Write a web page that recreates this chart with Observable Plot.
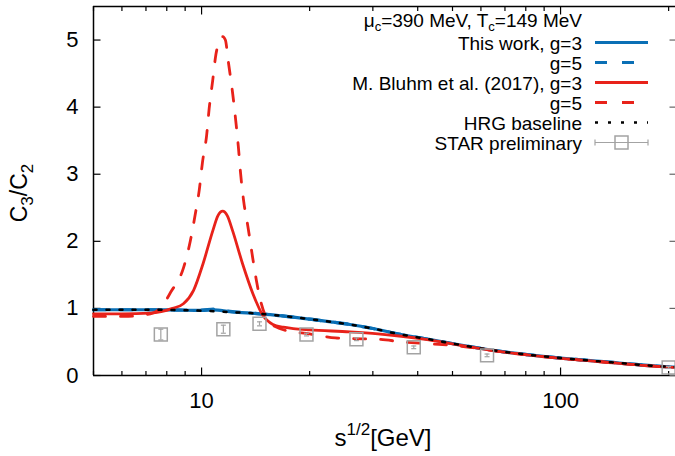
<!DOCTYPE html>
<html><head><meta charset="utf-8">
<script src="https://cdn.jsdelivr.net/npm/d3@7"></script>
<script src="https://cdn.jsdelivr.net/npm/@observablehq/plot@0.6"></script>
<style>
body{margin:0;background:#fff;}
svg{display:block}
</style>
</head><body><div id="chart"></div>
<script>
// ---- data ----
const hrgX   = [5, 7, 8.5, 10, 10.8, 12, 13.7, 16, 18, 20, 22.9, 25.9, 30, 36, 43, 49.4, 68, 100, 129, 200, 209];
const hrgY   = [0.98, 0.98, 0.975, 0.965, 0.958, 0.945, 0.93, 0.90, 0.87, 0.84, 0.80, 0.76, 0.70, 0.61, 0.54, 0.48, 0.36, 0.26, 0.21, 0.13, 0.125];
const blue3Y = [0.98, 0.98, 0.975, 0.97, 0.978, 0.95, 0.93, 0.90, 0.87, 0.84, 0.80, 0.76, 0.70, 0.61, 0.54, 0.48, 0.36, 0.26, 0.21, 0.13, 0.125];
const blue5Y = [0.98, 0.98, 0.977, 0.975, 0.99, 0.955, 0.93, 0.90, 0.87, 0.84, 0.80, 0.76, 0.70, 0.61, 0.54, 0.48, 0.36, 0.26, 0.21, 0.13, 0.125];

const red3X = [5, 6, 7.2, 8.3, 8.9, 9.5, 10.1, 10.75, 11.1, 11.45, 11.8, 12.2, 13.0, 13.9, 14.8, 15.8, 16.9, 18, 20, 25.9, 31, 36, 43, 49.4, 68, 100, 129, 200, 209];
const red3Y = [0.92, 0.92, 0.93, 1.0, 1.07, 1.27, 1.67, 2.16, 2.38, 2.45, 2.38, 2.16, 1.67, 1.22, 0.90, 0.76, 0.72, 0.70, 0.68, 0.65, 0.62, 0.585, 0.53, 0.475, 0.355, 0.255, 0.205, 0.125, 0.12];

const red5X = [5, 6.1, 7.2, 7.5, 7.8, 8.2, 8.9, 9.3, 9.6, 9.85, 10.06, 10.33, 10.5, 10.73, 10.96, 11.2, 11.45, 11.65, 11.87, 12.21, 12.45, 12.66, 12.85, 13.1, 13.47, 13.82, 14.21, 14.67, 15.32, 16.5, 17.2, 20, 23.6, 26, 30.9, 36.5, 43.4, 50, 56, 68, 100, 129, 200, 209];
const red5Y = [0.88, 0.88, 0.92, 0.96, 1.05, 1.24, 1.6, 2.0, 2.4, 2.76, 3.18, 3.58, 3.98, 4.38, 4.78, 4.98, 5.05, 5.0, 4.68, 4.2, 3.8, 3.41, 3.0, 2.6, 2.21, 1.82, 1.42, 1.07, 0.82, 0.70, 0.67, 0.62, 0.56, 0.55, 0.54, 0.50, 0.47, 0.45, 0.42, 0.355, 0.255, 0.205, 0.125, 0.12];

const starX   = [7.7, 11.5, 14.5, 19.6, 27, 39, 62.4, 200];
const starY   = [0.61, 0.69, 0.77, 0.61, 0.54, 0.42, 0.30, 0.12];
const starErr = [0.08, 0.06, 0.03, 0.02, 0.02, 0.02, 0.02, 0.015];

const xMajor = [10, 100];
const xMinor = [5, 6, 7, 8, 9, 20, 30, 40, 50, 60, 70, 80, 90, 200];
const yTicks = [0, 1, 2, 3, 4, 5];

const legendTitle = ["μ", "c", "=390 MeV, T", "c", "=149 MeV"];
const legendLabels = ["This work, g=3", "g=5", "M. Bluhm et al. (2017), g=3", "g=5", "HRG baseline", "STAR preliminary"];

// ---- styling ----
const BLUE = "#0a6fb5", RED = "#e8221a", GRAY = "#a3a3a3";
const DASH = "12,15", DOT = "3,10";
const pts = (xs, ys) => xs.map((x, i) => ({x, y: ys[i]}));
const star = starX.map((x, i) => ({x, y: starY[i], lo: starY[i] - starErr[i], hi: starY[i] + starErr[i]}));

const seg = (dx, dy) => ({draw(ctx) { ctx.moveTo(0, 0); ctx.lineTo(dx, dy); }});
const hcap = {draw(ctx) { ctx.moveTo(-2.5, 0); ctx.lineTo(2.5, 0); }};

const plot = Plot.plot({
  width: 675, height: 456,
  marginLeft: 93, marginRight: 0, marginTop: 6, marginBottom: 81,
  style: {fontFamily: "'Liberation Sans', Arial, sans-serif", fontSize: "22px", color: "black", background: "white"},
  x: {type: "log", domain: [5, 209]},
  y: {domain: [0, 5.5]},
  marks: [
    // frame (left, bottom, top)
    Plot.ruleX([5], {stroke: "black", strokeWidth: 1.5}),
    Plot.ruleY([0], {stroke: "black", strokeWidth: 1.5}),
    Plot.ruleY([5.5], {stroke: "black", strokeWidth: 1.5}),
    // ticks (gnuplot style, inward, mirrored)
    Plot.dot(xMajor, {x: d => d, y: 0, symbol: seg(0, -8), stroke: "black", fill: "none", strokeWidth: 1.2}),
    Plot.dot(xMinor, {x: d => d, y: 0, symbol: seg(0, -4.5), stroke: "black", fill: "none", strokeWidth: 1.2}),
    Plot.dot(xMajor, {x: d => d, y: 5.5, symbol: seg(0, 8), stroke: "black", fill: "none", strokeWidth: 1.2}),
    Plot.dot(xMinor, {x: d => d, y: 5.5, symbol: seg(0, 4.5), stroke: "black", fill: "none", strokeWidth: 1.2}),
    Plot.dot(yTicks, {x: 5, y: d => d, symbol: seg(7, 0), stroke: "black", fill: "none", strokeWidth: 1.2}),
    Plot.dot(yTicks, {x: 209, y: d => d, symbol: seg(-6, 0), stroke: "#666", fill: "none", strokeWidth: 1.2}),
    Plot.axisX({ticks: xMajor, tickSize: 0, tickPadding: 17, tickFormat: d => String(d), label: null, fontSize: 22}),
    Plot.axisY({ticks: yTicks, tickSize: 0, tickPadding: 15, tickFormat: d => String(d), label: null, fontSize: 22}),
    // curves
    Plot.line(pts(hrgX, blue3Y), {x: "x", y: "y", stroke: BLUE, strokeWidth: 3.2, curve: "monotone-x"}),
    Plot.line(pts(hrgX, blue5Y), {x: "x", y: "y", stroke: BLUE, strokeWidth: 3.2, strokeDasharray: DASH, curve: "monotone-x"}),
    Plot.line(pts(red3X, red3Y), {x: "x", y: "y", stroke: RED, strokeWidth: 2.8, curve: "monotone-x"}),
    Plot.line(pts(red5X, red5Y), {x: "x", y: "y", stroke: RED, strokeWidth: 2.8, strokeDasharray: DASH, curve: "monotone-x"}),
    Plot.line(pts(hrgX, hrgY), {x: "x", y: "y", stroke: "black", strokeWidth: 2.5, strokeDasharray: DOT, curve: "monotone-x"}),
    // STAR preliminary
    Plot.ruleX(star, {x: "x", y1: "lo", y2: "hi", stroke: GRAY, strokeWidth: 1.2}),
    Plot.dot(star, {x: "x", y: "lo", symbol: hcap, stroke: GRAY, fill: "none", strokeWidth: 1.2}),
    Plot.dot(star, {x: "x", y: "hi", symbol: hcap, stroke: GRAY, fill: "none", strokeWidth: 1.2}),
    Plot.dot(star, {x: "x", y: "y", symbol: "square", r: 7.3, stroke: GRAY, fill: "none", strokeWidth: 1.5})
  ]
});

// ---- axis titles and legend (text with sub/superscripts) ----
const svg = d3.select(plot);
const font = "'Liberation Sans', Arial, sans-serif";

const yl = svg.append("text").attr("transform", "translate(27,193) rotate(-90)")
  .attr("text-anchor", "middle").attr("font-family", font).attr("font-size", 23).attr("fill", "black");
yl.append("tspan").text("C");
yl.append("tspan").attr("font-size", 17).attr("dy", 6).text("3");
yl.append("tspan").attr("dy", -6).text("/C");
yl.append("tspan").attr("font-size", 17).attr("dy", 6).text("2");

const xl = svg.append("text").attr("x", 383).attr("y", 446)
  .attr("text-anchor", "middle").attr("font-family", font).attr("font-size", 24).attr("fill", "black");
xl.append("tspan").text("s");
xl.append("tspan").attr("font-size", 17).attr("dy", -11).text("1/2");
xl.append("tspan").attr("dy", 11).text("[GeV]");

const lg = svg.append("g").attr("font-family", font).attr("font-size", 19).attr("fill", "black");
const tx = 582, lx1 = 595, lx2 = 648;
const title = lg.append("text").attr("x", tx).attr("y", 27).attr("text-anchor", "end");
legendTitle.forEach((t, i) => {
  const sp = title.append("tspan").text(t);
  if (i === 1 || i === 3) sp.attr("font-size", 13).attr("dy", 4);
  else if (i > 0) sp.attr("dy", -4);
});
const rows = [49.5, 69.5, 89.5, 109.5, 129.5, 149.5];
const styles = [
  {stroke: BLUE, w: 3.2, dash: null},
  {stroke: BLUE, w: 3.2, dash: DASH},
  {stroke: RED, w: 2.8, dash: null},
  {stroke: RED, w: 2.8, dash: DASH},
  {stroke: "black", w: 2.5, dash: DOT},
  {stroke: GRAY, w: 1.2, dash: null}
];
legendLabels.forEach((lab, i) => {
  const yb = rows[i];
  lg.append("text").attr("x", tx).attr("y", yb).attr("text-anchor", "end").text(lab);
  const cy = yb - 7;
  const s = styles[i];
  const ln = lg.append("line").attr("x1", lx1).attr("x2", lx2).attr("y1", cy).attr("y2", cy)
    .attr("stroke", s.stroke).attr("stroke-width", s.w);
  if (s.dash) ln.attr("stroke-dasharray", s.dash);
  if (i === 5) {
    [lx1, lx2].forEach(x => lg.append("line").attr("x1", x).attr("x2", x).attr("y1", cy - 3).attr("y2", cy + 3)
      .attr("stroke", GRAY).attr("stroke-width", 1.2));
    lg.append("rect").attr("x", 621.5 - 6.5).attr("y", cy - 6.5).attr("width", 13).attr("height", 13)
      .attr("fill", "none").attr("stroke", GRAY).attr("stroke-width", 1.5);
  }
});

document.getElementById("chart").append(plot);
</script>
</body></html>
